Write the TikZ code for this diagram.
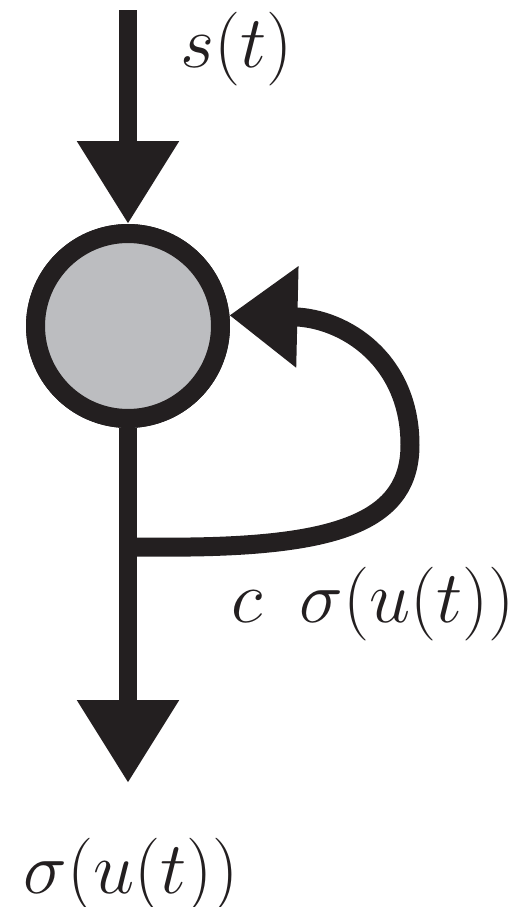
\RequirePackage{fix-cm}
\documentclass[tikz,border=0pt]{standalone}
\usetikzlibrary{arrows.meta}
\definecolor{ink}{HTML}{231F20}
\definecolor{cellfill}{HTML}{BCBDC0}

\begin{document}
\begin{tikzpicture}[
    x=0.02cm, y=-0.02cm,
    lbl/.style={anchor=base west, inner sep=0pt, text=ink, font=\fontsize{42}{50}\selectfont},
    cell/.style={circle, draw=ink, fill=cellfill, line width=0.38cm, minimum size=3.7cm, inner sep=0pt},
    flow/.style={draw=ink, line width=0.38cm, -{Triangle[length=1.66cm, width=1.94cm]}},
    loopback/.style={flow, -{Triangle[length=1.36cm, width=1.94cm]}}
  ]
  \useasboundingbox (0,0) rectangle (523,907);
  % Salida y retroalimentacion
  \coordinate (src) at (128,10);
  \coordinate (tap) at (128,547);
  \coordinate (out) at (128,783);
  \node[cell] (cell) at (128,326) {};
  \draw[flow] (cell.south) -- (out);
  \draw[loopback] (tap) -- (190,547) .. controls (340,545) and (410,520) .. (410,445)
    .. controls (410,360) and (345,318) .. (cell.6);
  \node[cell] at (128,326) {};
  % Entrada
  \draw[flow] (src) -- (cell.north);
  % Etiquetas
  \node[lbl] (st) at (180,67) {$s(t)$};
  \node[lbl] (fb) at (231,622) {$c\enspace\sigma(u(t))$};
  \node[lbl] (su) at (23,893) {$\sigma(u(t))$};
\end{tikzpicture}
\end{document}
